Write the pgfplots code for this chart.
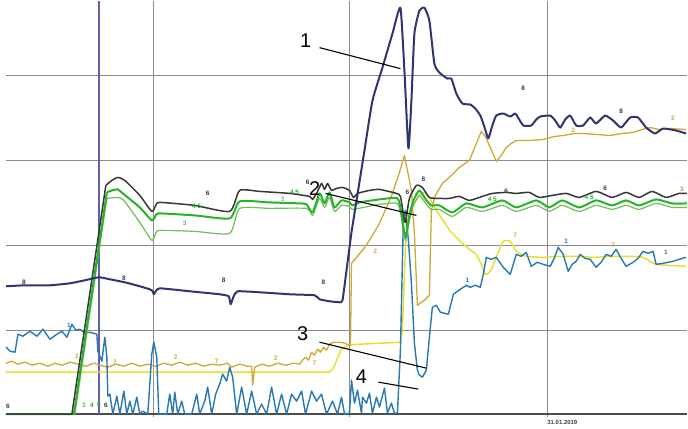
\documentclass[border=0pt]{standalone}
\usepackage{pgfplots}
\pgfplotsset{compat=1.18}
\usepackage{fontspec}
\setmainfont{Liberation Sans}
\definecolor{navy}{RGB}{48,52,112}
\definecolor{gsix}{RGB}{55,55,55}
\definecolor{gfive}{RGB}{40,180,40}
\definecolor{gthree}{RGB}{110,190,90}
\definecolor{ochre}{RGB}{205,170,50}
\definecolor{yel}{RGB}{232,222,50}
\definecolor{blu}{RGB}{40,120,180}
\definecolor{vline}{RGB}{95,95,175}
\definecolor{gridc}{RGB}{140,140,140}
\begin{document}
\begin{tikzpicture}
\begin{axis}[scale only axis, width=688bp, height=428bp,
  xmin=0, xmax=688, ymin=0, ymax=428, y dir=reverse,
  hide axis, clip=false, line join=round]
\path (rel axis cs:0,0) rectangle (rel axis cs:1,1);
% grid
\draw[gridc, line width=1.2bp] (axis cs:6,75) -- (axis cs:688,75);
\draw[gridc, line width=1.2bp] (axis cs:6,160) -- (axis cs:688,160);
\draw[gridc, line width=1.2bp] (axis cs:6,245) -- (axis cs:688,245);
\draw[gridc, line width=1.2bp] (axis cs:6,330) -- (axis cs:688,330);
\draw[gridc, line width=1.2bp] (axis cs:154,0) -- (axis cs:154,417);
\draw[gridc, line width=1.2bp] (axis cs:350,0) -- (axis cs:350,417);
\draw[gridc, line width=1.2bp] (axis cs:548,0) -- (axis cs:548,417);
\draw[black!70, line width=1.3bp] (axis cs:6,414) -- (axis cs:688,414);
\draw[vline, line width=1.4bp] (axis cs:99,0) -- (axis cs:99,414);
% series 7 (bright yellow)
\addplot[yel, line width=1.5bp] coordinates {(6,372) (100,372) (200,372) (300,372) (330,372) (334,368) (338,358) (342,349) (348,345) (360,344) (380,343) (401,342) (403,330)};
\addplot[yel, line width=1.5bp, smooth, tension=0.3] coordinates {(403,330) (406,250) (409,215) (414,205) (420,195) (425,192) (430,197) (437,210) (445,222) (452,232) (461,241) (470,249) (477,254) (482,264) (486,274) (491,271) (497,257) (504,241) (511,241) (517,251) (527,256) (544,257) (560,256) (577,256) (595,257) (611,256) (630,256) (644,257) (657,264) (687,266)};
% series 2 (ochre)
\addplot[ochre, line width=1.3bp] coordinates {(6,363) (12,361) (18,364) (25,362) (32,365) (40,363) (48,366) (55,363) (62,365) (70,362) (78,364) (86,366) (94,363) (100,365) (108,367) (116,364) (124,366) (132,363) (140,366) (148,364) (156,366) (164,363) (172,365) (180,362) (188,365) (196,363) (204,366) (212,364) (220,365) (228,363) (232,367) (240,364) (248,366) (252,366) (253,385) (255,367) (262,364) (270,366) (278,363) (286,365) (294,363) (300,364) (303,360) (306,357) (309,360) (312,352) (315,355) (318,349) (321,352) (324,347) (327,350) (330,344) (334,342) (340,342) (346,343) (349,345) (351,345) (352,263) (363,250) (370,240) (380,223) (388,205) (393,193) (400,172) (405,155) (408,170) (412,190) (415,233) (418,305) (425,300) (430,295) (432,210) (436,195) (443,183) (452,175) (460,167) (470,160) (477,143) (482,131) (486,136) (491,147) (497,161) (502,155) (507,147) (512,143) (517,140) (530,140) (544,139) (555,136) (564,135) (575,133) (584,133) (598,134) (611,135) (622,133) (634,132) (643,129) (651,127) (660,129) (671,128) (687,129)};
% series 1 (blue)
\addplot[blu, line width=1.4bp] coordinates {(6,347) (10,351) (15,352) (18,334) (23,336) (30,331) (37,336) (43,329) (50,339) (57,334) (62,331) (67,337) (72,324) (76,330) (80,329) (85,333) (90,332) (97,334) (98,351) (102,361) (105,337) (107,357) (108,396) (110,394) (113,414) (117,396) (120,414) (124,391) (127,414) (130,401) (133,414) (137,397) (140,414) (143,411) (148,414) (152,354) (154,342) (157,357) (159,414) (167,414) (170,394) (173,414) (175,392) (178,414) (182,401) (185,414) (192,414) (197,394) (200,414) (205,401) (208,387) (212,414) (216,394) (220,384) (223,374) (227,381) (230,367) (233,377) (237,414) (242,387) (247,414) (252,391) (257,414) (262,404) (267,414) (272,387) (277,414) (282,394) (287,414) (292,394) (297,401) (302,391) (306,414) (312,391) (317,401) (322,394) (327,414) (333,401) (338,414) (342,397) (345,414) (350,413) (352,380) (355,403) (358,390) (362,413) (363,397) (367,403) (370,393) (373,413) (377,397) (380,407) (385,388) (388,413) (392,403) (395,413) (398,413) (401,350) (404,217) (406,210) (409,240) (412,283) (415,343) (418,370) (420,375) (423,377) (427,370) (430,337) (433,307) (437,305) (441,312) (449,314) (454,294) (461,289) (467,285) (471,287) (476,285) (481,287) (484,274) (487,257) (492,259) (497,257) (504,267) (511,274) (517,254) (522,256) (527,252) (532,266) (538,262) (544,264) (551,266) (555,258) (559,247) (564,254) (569,271) (573,264) (577,261) (581,254) (586,258) (591,259) (597,267) (602,262) (607,254) (612,256) (617,249) (622,258) (627,266) (634,262) (639,258) (644,251) (649,253) (654,251) (657,264) (664,263) (669,262) (674,261) (680,259) (687,257)};
% series 3 (light green)
\addplot[gthree, line width=1.2bp] coordinates {(6,414) (75,414) (107,198)};
\addplot[gthree, line width=1.2bp, smooth, tension=0.35] coordinates {(107,198) (118,197) (124,200) (140,222) (152,240) (156,233) (160,230) (195,231) (230,233) (240,208) (270,208) (307,208) (313,215) (320,198) (325,207) (330,197) (335,211) (342,205) (350,206) (353,209) (380,204) (398,203) (402,218) (406,240) (410,220) (414,205) (420,195) (427,204) (432,209) (440,209) (453,216) (467,207) (483,211) (503,205) (517,211) (537,205) (550,211) (563,205) (580,211) (597,205) (613,209) (627,205) (640,209) (657,203) (673,207) (688,207)};
% series 4 5 (green)
\addplot[gfive, line width=2bp] coordinates {(6,414) (74,414) (107,192)};
\addplot[gfive, line width=2bp, smooth, tension=0.35] coordinates {(107,192) (112,190) (118,189) (123,193) (140,207) (152,220) (156,215) (160,213) (195,215) (230,218) (240,201) (270,202) (300,203) (307,204) (313,212) (320,193) (325,203) (330,192) (335,207) (342,200) (350,202) (353,205) (360,202) (380,199) (398,198) (402,213) (406,237) (410,215) (414,200) (420,190) (427,200) (432,205) (440,205) (453,212) (467,203) (483,207) (503,200) (517,207) (537,200) (550,207) (563,200) (580,207) (597,200) (613,205) (627,200) (640,205) (657,199) (673,203) (688,203)};
% series 6 (dark gray)
\addplot[gsix, line width=1.5bp] coordinates {(6,414) (72,414) (106,185)};
\addplot[gsix, line width=1.5bp, smooth, tension=0.35] coordinates {(106,185) (112,180) (118,177) (125,180) (140,195) (152,211) (156,205) (160,202) (195,205) (230,211) (240,190) (260,191) (290,193) (310,196) (313,199) (317,193) (322,183) (325,189) (328,183) (332,190) (337,188) (343,187) (350,190) (354,197) (358,193) (370,190) (380,189) (397,193) (401,196) (404,214) (406,222) (410,198) (417,185) (423,187) (430,197) (440,198) (450,198) (460,196) (470,200) (483,196) (493,193) (507,192) (517,193) (530,192) (540,197) (553,195) (567,193) (580,197) (597,191) (613,197) (627,192) (640,197) (653,191) (667,197) (680,193) (688,193)};
% series 8 (navy)
\addplot[navy, line width=2bp, smooth, tension=0.3] coordinates {(6,286) (25,285) (50,285) (70,283) (85,280) (99,277) (110,279) (125,282) (140,286) (150,289) (153,291) (154,294) (156,291) (160,288) (190,291) (220,294) (229,296) (231,304) (234,296) (238,291) (260,292) (290,294) (315,295) (320,299) (330,301) (340,302) (343,300) (347,270) (352,232) (355,213) (365,150) (373,100) (383,67) (393,33) (401,7) (405,70) (409,148) (412,100) (415,33) (420,10) (425,7) (430,20) (435,63) (440,72) (448,78) (452,78) (457,93) (463,103) (471,104) (476,108) (481,115) (485,126) (489,138) (493,125) (497,115) (504,113) (511,116) (516,113) (520,119) (524,125) (532,125) (537,119) (541,116) (551,115) (556,120) (561,127) (566,119) (571,115) (577,125) (584,125) (591,117) (597,123) (606,115) (614,120) (622,127) (631,117) (639,117) (647,127) (656,133) (664,128) (677,130) (687,133)};
% small curve labels
\begin{scope}[every node/.style={font=\bfseries\fontsize{6.5}{7}\selectfont, inner sep=0pt}]
\node[navy] at (axis cs:24,282) {8};
\node[navy] at (axis cs:124,278) {8};
\node[navy] at (axis cs:224,280) {8};
\node[navy] at (axis cs:324,282) {8};
\node[navy] at (axis cs:424,179) {8};
\node[navy] at (axis cs:524,88) {8};
\node[navy] at (axis cs:622,111) {8};
\node[gsix] at (axis cs:8,406) {6};
\node[gsix] at (axis cs:208,193) {6};
\node[gsix] at (axis cs:308,182) {6};
\node[gsix] at (axis cs:408,192) {6};
\node[gsix] at (axis cs:507,191) {6};
\node[gsix] at (axis cs:606,188) {6};
\node[gfive] at (axis cs:197,206) {4 5};
\node[gfive] at (axis cs:295,192) {4 5};
\node[gfive] at (axis cs:493,199) {4 5};
\node[gfive] at (axis cs:590,197) {4 5};
\node[gthree] at (axis cs:185,223) {3};
\node[gthree] at (axis cs:283,199) {3};
\node[gthree] at (axis cs:683,189) {3};
\node[ochre] at (axis cs:77,356) {2};
\node[ochre] at (axis cs:176,357) {2};
\node[ochre] at (axis cs:276,358) {2};
\node[ochre] at (axis cs:376,251) {2};
\node[ochre] at (axis cs:574,130) {2};
\node[ochre] at (axis cs:674,118) {2};
\node[yel!80!black] at (axis cs:115,362) {7};
\node[yel!80!black] at (axis cs:217,361) {7};
\node[yel!80!black] at (axis cs:315,363) {7};
\node[yel!80!black] at (axis cs:516,235) {7};
\node[yel!80!black] at (axis cs:614,245) {7};
\node[blu] at (axis cs:69,325) {1};
\node[blu] at (axis cs:468,280) {1};
\node[blu] at (axis cs:567,241) {1};
\node[blu] at (axis cs:667,252) {1};
\node[gthree] at (axis cs:84,405) {3};
\node[gfive] at (axis cs:92,405) {4};
\node[gfive] at (axis cs:99,405) {5};
\node[gsix] at (axis cs:106,405) {6};
\end{scope}
\node[font=\bfseries\fontsize{6}{7}\selectfont, text=black!75, anchor=west, inner sep=0pt] at (axis cs:548,422) {31.01.2019};
% callouts
\begin{scope}[every node/.style={font=\fontsize{20}{22}\selectfont, inner sep=0pt}]
\node at (axis cs:306,40) {1};
\node at (axis cs:315,188) {2};
\node at (axis cs:303,333) {3};
\node at (axis cs:362,376) {4};
\end{scope}
\draw[black, line width=1.1bp] (axis cs:320,47) -- (axis cs:401,68);
\draw[black, line width=1.1bp] (axis cs:326,193) -- (axis cs:417,215);
\draw[black, line width=1.1bp] (axis cs:320,342) -- (axis cs:427,368);
\draw[black, line width=1.1bp] (axis cs:379,382) -- (axis cs:419,389);
\end{axis}
\end{tikzpicture}
\end{document}
